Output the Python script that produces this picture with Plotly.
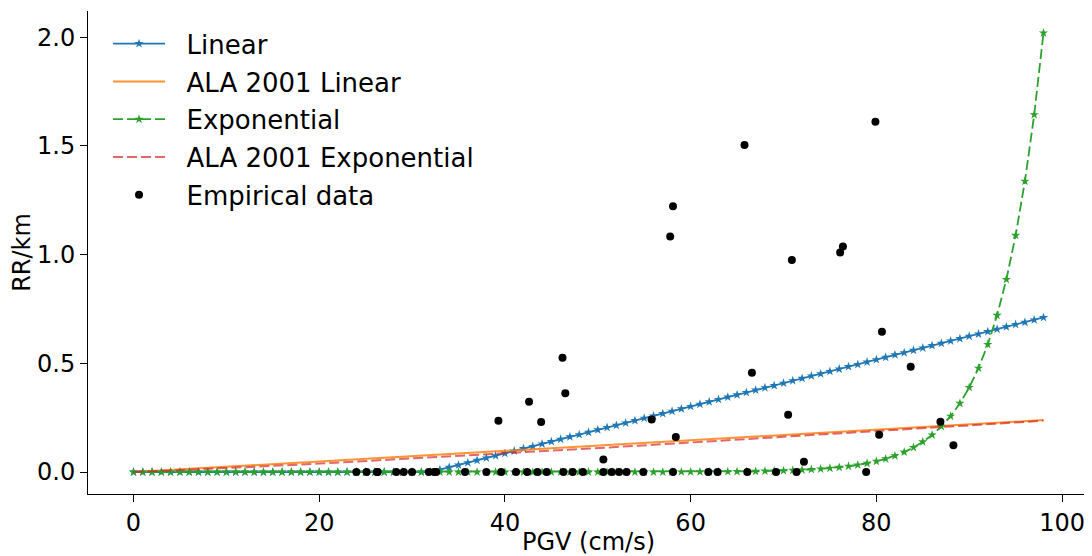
import plotly.graph_objects as go

# ---- data ----
pgv = list(range(0, 99))  # 0..98 cm/s

linear_rr = [0.0] * 33 + [
    0.011, 0.022, 0.032, 0.043, 0.054, 0.065, 0.075, 0.086, 0.097, 0.108,
    0.118, 0.129, 0.140, 0.151, 0.162, 0.172, 0.183, 0.194, 0.205, 0.215,
    0.226, 0.237, 0.248, 0.258, 0.269, 0.280, 0.291, 0.302, 0.312, 0.323,
    0.334, 0.345, 0.355, 0.366, 0.377, 0.388, 0.398, 0.409, 0.420, 0.431,
    0.442, 0.452, 0.463, 0.474, 0.485, 0.495, 0.506, 0.517, 0.528, 0.539,
    0.549, 0.560, 0.571, 0.582, 0.592, 0.603, 0.614, 0.625, 0.635, 0.646,
    0.657, 0.668, 0.679, 0.689, 0.700, 0.711]

exp_rr = [0.0] * 58 + [
    0.0005, 0.0007, 0.0008, 0.0010, 0.0012, 0.0015, 0.0018, 0.0023, 0.0028, 0.0034,
    0.0042, 0.0051, 0.0063, 0.0078, 0.0095, 0.0117, 0.0144, 0.0177, 0.0217, 0.0267,
    0.0328, 0.0403, 0.0496, 0.0609, 0.0748, 0.0919, 0.1130, 0.1388, 0.1705, 0.2096,
    0.257, 0.316, 0.389, 0.478, 0.587, 0.721, 0.886, 1.089, 1.338, 1.644, 2.02]

ala_lin_pgv = [0, 98]
ala_lin_rr = [0.0, 0.239]

ala_exp_pgv = [0, 7, 14, 21, 28, 35, 42, 49, 56, 63, 70, 77, 84, 91, 98]
ala_exp_rr = [0.0, 0.0120, 0.0262, 0.0414, 0.0573, 0.0737, 0.0906, 0.1079,
              0.1254, 0.1433, 0.1614, 0.1797, 0.1983, 0.2170, 0.236]

emp_pgv = [24.0, 25.1, 26.2, 26.3, 28.3, 29.1, 30.0, 31.8, 32.4, 32.6, 35.7, 38.0,
           39.6, 41.2, 42.4, 43.5, 44.5, 46.3, 47.3, 48.4, 50.6, 51.5, 52.3, 53.1,
           54.9, 58.1, 61.9, 62.9, 66.1, 69.2, 71.4, 78.9,
           39.3, 42.6, 43.9, 46.2, 46.5, 50.6, 55.8, 58.4, 57.8, 58.1, 65.8, 66.6,
           70.5, 70.9, 72.2, 76.1, 76.4, 79.9, 80.3, 80.6, 83.7, 86.9, 88.3]
emp_rr = [0.0] * 32 + [
    0.236, 0.323, 0.230, 0.526, 0.363, 0.058, 0.242, 0.161, 1.084, 1.223, 1.505, 0.457,
    0.264, 0.975, 0.047, 1.010, 1.038, 1.612, 0.172, 0.645, 0.484, 0.231, 0.123]

series_names = ["Linear", "ALA 2001 Linear", "Exponential",
                "ALA 2001 Exponential", "Empirical data"]

x_ticks = [0, 20, 40, 60, 80, 100]
y_ticks = [0.0, 0.5, 1.0, 1.5, 2.0]

FONT = "DejaVu Sans"
PAD = "\u00a0\u00a0"

fig = go.Figure()
fig.add_trace(go.Scatter(
    x=pgv, y=linear_rr, name=PAD + series_names[0], mode="lines+markers", legendgroup="a",
    line=dict(color="#1f77b4", width=1.8),
    marker=dict(symbol="star", size=7, color="#1f77b4")))
fig.add_trace(go.Scatter(
    x=ala_lin_pgv, y=ala_lin_rr, name=PAD + series_names[1], mode="lines", legendgroup="b",
    line=dict(color="rgba(255,127,14,0.85)", width=2)))
fig.add_trace(go.Scatter(
    x=pgv, y=exp_rr, name=PAD + series_names[2], mode="lines+markers", legendgroup="c",
    line=dict(color="#2ca02c", width=1.8, dash="10px,4px"),
    marker=dict(symbol="star", size=7, color="#2ca02c")))
fig.add_trace(go.Scatter(
    x=ala_exp_pgv, y=ala_exp_rr, name=PAD + series_names[3], mode="lines", legendgroup="d",
    line=dict(color="rgba(214,39,40,0.7)", width=2, dash="10px,4px")))
fig.add_trace(go.Scatter(
    x=emp_pgv, y=emp_rr, name=PAD + series_names[4], mode="markers", legendgroup="e",
    marker=dict(symbol="circle", size=8, color="black")))

axis_common = dict(
    showline=True, linecolor="black", linewidth=1, mirror=False,
    showgrid=False, zeroline=False, ticks="outside", ticklen=7, tickwidth=1,
    tickcolor="black", tickfont=dict(family=FONT, size=24, color="black"),
    automargin=False,
)

# page has an 8px body margin, so the figure is drawn 8px in from the top-left
fig.update_layout(
    width=1084, height=548,
    margin=dict(l=80, r=3, t=3, b=62),
    paper_bgcolor="white", plot_bgcolor="white",
    font=dict(family=FONT, color="black"),
    showlegend=True,
    legend=dict(
        x=0.020, y=0.981, xanchor="left", yanchor="top",
        font=dict(family=FONT, size=26, color="black"),
        bgcolor="rgba(255,255,255,0)", borderwidth=0,
        itemwidth=52, tracegroupgap=1, traceorder="grouped",
    ),
    xaxis=dict(range=[-4.9, 102.9], tickvals=x_ticks,
               title=dict(text="PGV (cm/s)", font=dict(family=FONT, size=24), standoff=2),
               **axis_common),
    yaxis=dict(range=[-0.101, 2.121], tickvals=y_ticks, tickformat=".1f",
               title=dict(text="RR/km", font=dict(family=FONT, size=24), standoff=8),
               **axis_common),
)

fig.write_html("out.html")
